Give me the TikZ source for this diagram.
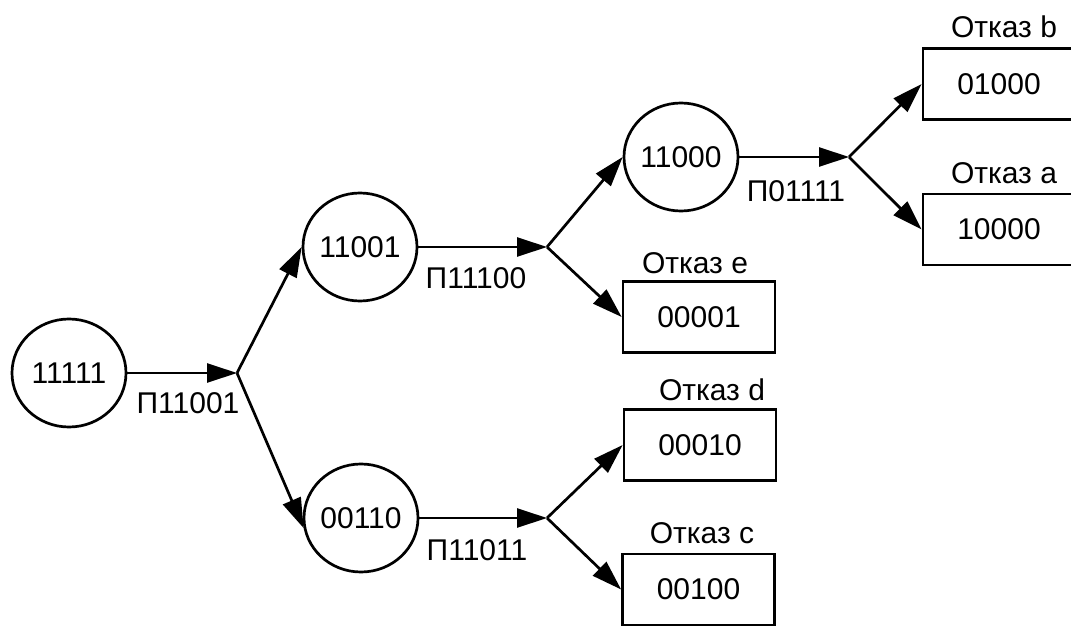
\documentclass[tikz,border=0pt]{standalone}
\usepackage{fontspec}
\setmainfont{Liberation Sans}
\usetikzlibrary{arrows.meta,shapes.geometric}

\tikzset{
  state/.style={draw, ellipse, line width=1.35pt, minimum width=57pt, minimum height=54pt,
                inner xsep=-4pt, inner ysep=0pt, font=\fontsize{15}{18}\selectfont},
  fault/.style={draw, rectangle, line width=1.35pt, minimum width=76pt, minimum height=35.5pt,
                inner sep=0pt, font=\fontsize{15}{18}\selectfont},
  txt/.style={inner sep=0pt, font=\fontsize{15}{18}\selectfont},
  flow/.style={line width=1.35pt, -{Triangle[length=15pt,width=9.5pt]}}
}

\begin{document}
\begin{tikzpicture}[x=0.5pt, y=-0.5pt]
  \useasboundingbox (0,0) rectangle (1071,626);
  \clip (0,0) rectangle (1071,626);

  % states
  \node[state] (c1) at (69,373) {11111};
  \node[state] (c2) at (360,247) {11001};
  \node[state] (c3) at (361,518) {00110};
  \node[state] (c4) at (681,157) {11000};

  % branching points
  \coordinate (j1) at (237,373);
  \coordinate (j2) at (547,247);
  \coordinate (j3) at (849,157);
  \coordinate (j4) at (547,518);

  % fault boxes
  \node[fault] (b1) at (999,84)   {01000};
  \node[fault] (b2) at (999,229.5) {10000};
  \node[fault] (b3) at (699,317)  {00001};
  \node[fault] (b4) at (700,445)  {00010};
  \node[fault] (b5) at (698.5,589.5) {00100};

  % fault captions
  \node[txt] (t1) at (1004,27)  {Отказ b};
  \node[txt] (t2) at (1004,173) {Отказ a};
  \node[txt] (t3) at (695,263)  {Отказ e};
  \node[txt] (t4) at (712,390)  {Отказ d};
  \node[txt] (t5) at (702,533)  {Отказ c};

  % test labels
  \node[txt] (p1) at (188,403) {П11001};
  \node[txt] (p2) at (476,278) {П11100};
  \node[txt] (p3) at (796,191) {П01111};
  \node[txt] (p4) at (477,550) {П11011};

  % connectors
  \draw[flow] (c1.east) -- (j1);
  \draw[flow] (j1) -- (c2.west);
  \draw[flow] (j1) -- (c3.190);

  \draw[flow] (c2.east) -- (j2);
  \draw[flow] (j2) -- (c4.west);
  \draw[flow] (j2) -- (b3.west);

  \draw[flow] (c4.east) -- (j3);
  \draw[flow] (j3) -- (b1.west);
  \draw[flow] (j3) -- (b2.west);

  \draw[flow] (c3.east) -- (j4);
  \draw[flow] (j4) -- (b4.west);
  \draw[flow] (j4) -- (b5.west);
\end{tikzpicture}
\end{document}
